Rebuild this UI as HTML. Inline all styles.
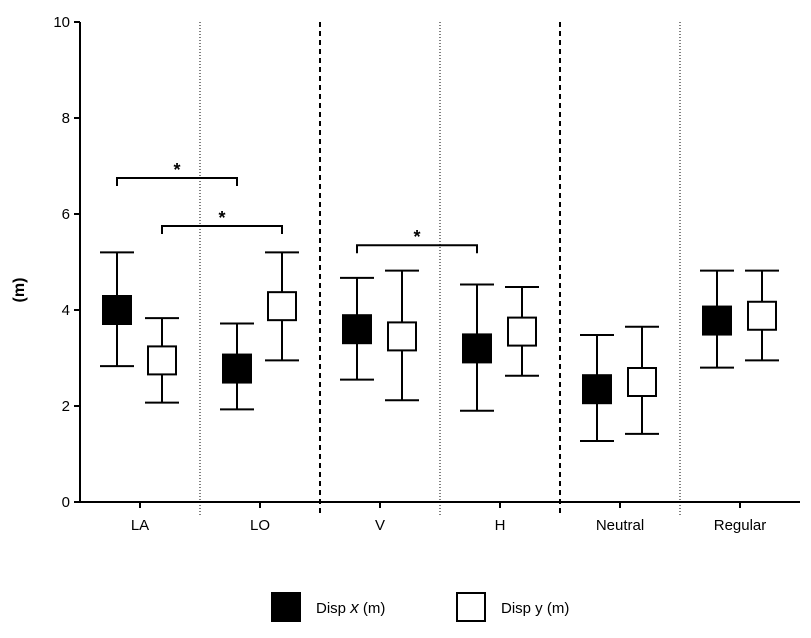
<!DOCTYPE html>
<html><head><meta charset="utf-8"><style>
body{margin:0;background:#fff;}
svg{display:block;font-family:"Liberation Sans",Arial,sans-serif;}
</style></head><body>
<svg id="chart" width="811" height="638" viewBox="0 0 811 638">
<g id="axes"></g><g id="marks"></g>
</svg>
<script>
const categories = ["LA","LO","V","H","Neutral","Regular"];
const dispXMean = [4.0, 2.78, 3.6, 3.2, 2.35, 3.78];
const dispXUpper = [5.2, 3.72, 4.67, 4.53, 3.48, 4.82];
const dispXLower = [2.83, 1.93, 2.55, 1.9, 1.27, 2.8];
const dispYMean = [2.95, 4.08, 3.45, 3.55, 2.5, 3.88];
const dispYUpper = [3.83, 5.2, 4.82, 4.48, 3.65, 4.82];
const dispYLower = [2.07, 2.95, 2.12, 2.63, 1.42, 2.95];
const yTicks = [0,2,4,6,8,10];
const sigPairs = [[0,0,1,0,6.75],[0,1,1,1,5.75],[2,0,3,0,5.35]]; // [cat,series,cat,series,y]

const NS="http://www.w3.org/2000/svg";
const axes=document.getElementById('axes'), marks=document.getElementById('marks');
const X0=80, X1=800, Y0=502, PPU=48, GW=120, BOX=28;
const yS=v=>Y0-v*PPU;
const xC=i=>X0+GW*i+GW/2;
const xS=(i,s)=>xC(i)+(s===0?-23:22);
function el(tag,attrs,parent){const e=document.createElementNS(NS,tag);for(const k in attrs)e.setAttribute(k,attrs[k]);parent.appendChild(e);return e;}

let a=el('line',{x1:X0,y1:yS(10),x2:X0,y2:Y0,stroke:'#000','stroke-width':2},axes);


a=el('line',{x1:X0,y1:Y0,x2:X1,y2:Y0,stroke:'#000','stroke-width':2},axes);


yTicks.forEach(t=>{
  const l=el('line',{x1:X0-6,y1:yS(t),x2:X0,y2:yS(t),stroke:'#000','stroke-width':2},axes);
  
  
  const tx=el('text',{x:X0-10,y:yS(t)+5,'text-anchor':'end','font-size':15},axes);
  tx.textContent=t;
  
  
});
categories.forEach((c,i)=>{
  const l=el('line',{x1:xC(i),y1:Y0,x2:xC(i),y2:Y0+6,stroke:'#000','stroke-width':2},axes);
  
  
  const tx=el('text',{x:xC(i),y:Y0+28,'text-anchor':'middle','font-size':15},axes);
  tx.textContent=c;
  
  
  if(i>0){
    const dashed=(i===2||i===4);
    const s=el('line',{x1:X0+GW*i,y1:yS(10),x2:X0+GW*i,y2:Y0+14,stroke:'#000','stroke-width':dashed?2:1,'stroke-dasharray':dashed?'5,4':'1,2'},axes);
    
    
  }
});
const yl=el('text',{x:0,y:0,transform:'translate(24,290) rotate(-90)','text-anchor':'middle','font-size':16,'font-weight':'bold'},axes);
yl.textContent='(m)';



function series(mean,up,lo,s){
  categories.forEach((c,i)=>{
    const x=xS(i,s);
    const g=el('g',{},marks);
    
    
    el('line',{x1:x,y1:yS(up[i]),x2:x,y2:yS(lo[i]),stroke:'#000','stroke-width':2},g);
    el('line',{x1:x-17,y1:yS(up[i]),x2:x+17,y2:yS(up[i]),stroke:'#000','stroke-width':2},g);
    el('line',{x1:x-17,y1:yS(lo[i]),x2:x+17,y2:yS(lo[i]),stroke:'#000','stroke-width':2},g);
    el('rect',{x:x-BOX/2,y:yS(mean[i])-BOX/2,width:BOX,height:BOX,fill:s===0?'#000':'#fff',stroke:'#000','stroke-width':2},g);
  });
}
series(dispXMean,dispXUpper,dispXLower,0);
series(dispYMean,dispYUpper,dispYLower,1);

sigPairs.forEach(p=>{
  const xa=xS(p[0],p[1]), xb=xS(p[2],p[3]), y=yS(p[4]);
  const g=el('g',{},marks);
  
  
  el('path',{d:`M${xa},${y+8}V${y}H${xb}V${y+8}`,fill:'none',stroke:'#000','stroke-width':2},g);
  const t=el('text',{x:(xa+xb)/2,y:y-2,'text-anchor':'middle','font-size':18,'font-weight':'bold'},g);
  t.textContent='*';
});

const lg=el('g',{},marks);


let r=el('rect',{x:272,y:593,width:28,height:28,fill:'#000',stroke:'#000','stroke-width':2},lg);


let t=el('text',{x:316,y:613,'font-size':15},lg);
t.innerHTML='Disp <tspan font-style="italic" font-size="17">x</tspan> (m)';


r=el('rect',{x:457,y:593,width:28,height:28,fill:'#fff',stroke:'#000','stroke-width':2},lg);


t=el('text',{x:501,y:613,'font-size':15},lg);
t.textContent='Disp y (m)';


</script>
</body></html>
